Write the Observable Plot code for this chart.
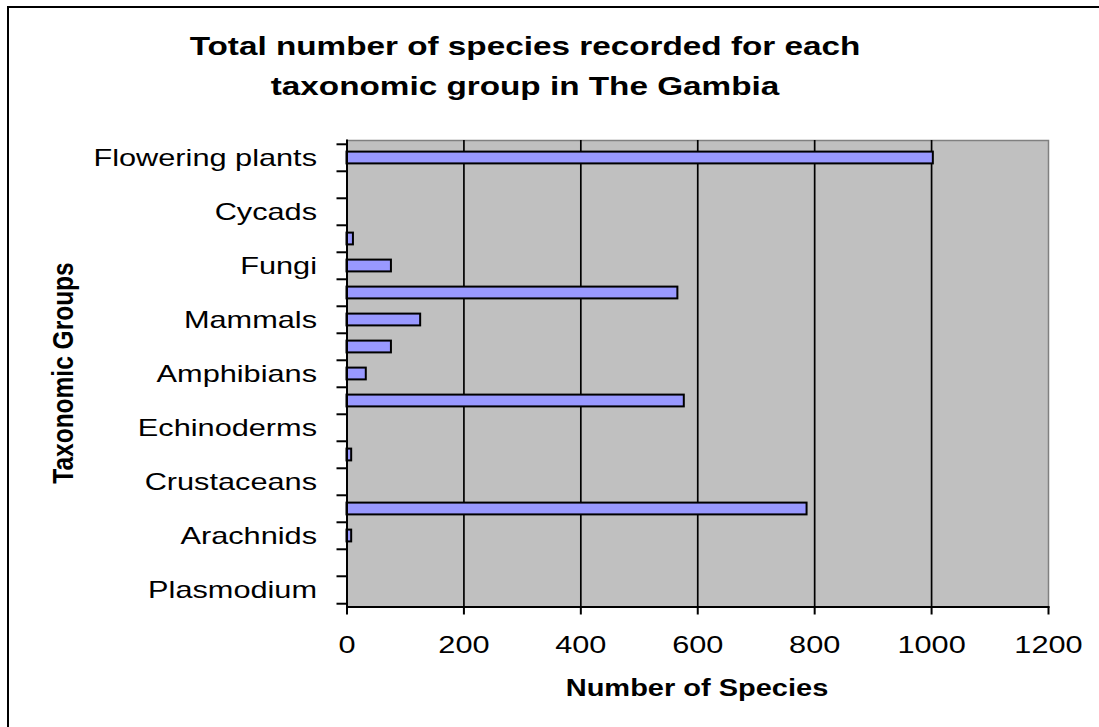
<!DOCTYPE html>
<html>
<head>
<meta charset="utf-8">
<script src="https://cdn.jsdelivr.net/npm/d3@7"></script>
<script src="https://cdn.jsdelivr.net/npm/@observablehq/plot@0.6"></script>
<style>
  html, body { margin: 0; padding: 0; background: #fff; overflow: hidden; }
  #wrap { position: relative; width: 1099px; height: 727px; overflow: hidden;
          font-family: "Liberation Sans", Arial, sans-serif; color: #000; }
  #frame { position: absolute; left: 7px; top: 6px; width: 1150px; height: 780px;
           border-left: 2.5px solid #000; border-top: 2.5px solid #000; }
  .title { position: absolute; left: 0; width: 1050px; text-align: center;
           font-weight: bold; font-size: 26px; line-height: 40px;
           transform: scaleX(1.28); transform-origin: 525px 0; }
  .xlabel { position: absolute; left: 297px; width: 800px; text-align: center;
            font-weight: bold; font-size: 23px; top: 675px;
            transform: scaleX(1.26); transform-origin: 400px 0; }
  .ylabel { position: absolute; left: 63px; top: 373px; font-weight: bold; font-size: 24.5px;
            white-space: nowrap; transform: translate(-50%, -50%) scaleX(1.2) rotate(-90deg); }
  #chart { position: absolute; left: 0; top: 0; width: 1099px; height: 727px; }
  #chart svg { display: block; }
</style>
</head>
<body>
<div id="wrap">
  <div id="frame"></div>
  <div class="title" style="top: 26px;">Total number of species recorded for each<br>taxonomic group in The Gambia</div>
  <div class="ylabel">Taxonomic Groups</div>
  <div class="xlabel">Number of Species</div>
  <div id="chart"></div>
</div>
<script>
// Taxonomic groups, top to bottom
const groups = [
  "Flowering plants", "Ferns", "Cycads", "Mosses", "Fungi", "Birds", "Mammals",
  "Reptiles", "Amphibians", "Fish", "Echinoderms", "Molluscs", "Crustaceans",
  "Insects", "Arachnids", "Nematodes", "Plasmodium"
];
// Species recorded per group
const speciesCounts = [1003, 0, 0, 11, 76, 566, 126, 76, 33, 577, 0, 8, 0, 787, 8, 0, 0];
// Groups whose names are printed on the category axis
const labelledGroups = [
  "Flowering plants", "Cycads", "Fungi", "Mammals", "Amphibians",
  "Echinoderms", "Crustaceans", "Arachnids", "Plasmodium"
];
// Value axis ticks
const xTicks = [0, 200, 400, 600, 800, 1000, 1200];

const records = groups.map((group, i) => ({group, count: speciesCounts[i]}));

const W = 1099, H = 727;
const mTop = 140, mBottom = 120.5, mLeft = 346.5, mRight = 51;
const band = (H - mTop - mBottom) / groups.length;

const chart = Plot.plot({
  width: W,
  height: H,
  marginTop: mTop,
  marginBottom: mBottom,
  marginLeft: mLeft,
  marginRight: mRight,
  style: {fontFamily: "'Liberation Sans', Arial, sans-serif", fontSize: "24px", color: "#000", background: "transparent", overflow: "visible"},
  x: {domain: [0, 1200], label: null},
  y: {domain: groups, padding: 0, label: null},
  marks: [
    Plot.frame({fill: "#C0C0C0", stroke: "#808080", strokeWidth: 1.5}),
    Plot.gridX(xTicks.slice(1, -1), {stroke: "#000", strokeOpacity: 1, strokeWidth: 1.7}),
    Plot.barX(records.filter(d => d.count > 0), {
      x: "count", y: "group", fill: "#9999FF", stroke: "#000", strokeWidth: 2,
      insetTop: 7.6, insetBottom: 7.6
    }),
    Plot.frame({anchor: "left", stroke: "#000", strokeWidth: 2}),
    Plot.frame({anchor: "bottom", stroke: "#000", strokeWidth: 2}),
    // tick marks on the category boundaries
    Plot.axisY({tickSize: 10, fill: "none", stroke: "#000", strokeWidth: 2, dy: -band / 2, label: null}),
    Plot.axisY({ticks: groups.slice(-1), tickSize: 10, fill: "none", stroke: "#000", strokeWidth: 2, dy: band / 2, label: null}),
    Plot.axisY({ticks: labelledGroups, tickSize: 0, tickPadding: 30, fill: "#000", label: null}),
    Plot.axisX({ticks: xTicks, tickFormat: d3.format("d"), tickSize: 8, tickPadding: 20.5,
                stroke: "#000", strokeWidth: 2, fill: "#000", label: null})
  ]
});

// widen the glyphs horizontally, keeping each label's anchor in place
chart.querySelectorAll("text").forEach(t => {
  const x = +t.getAttribute("x") || 0, y = +t.getAttribute("y") || 0;
  const tr = t.getAttribute("transform") || "";
  t.setAttribute("transform", `${tr} translate(${x},${y}) scale(1.28,1) translate(${-x},${-y})`);
});

document.getElementById("chart").appendChild(chart);
</script>
</body>
</html>
